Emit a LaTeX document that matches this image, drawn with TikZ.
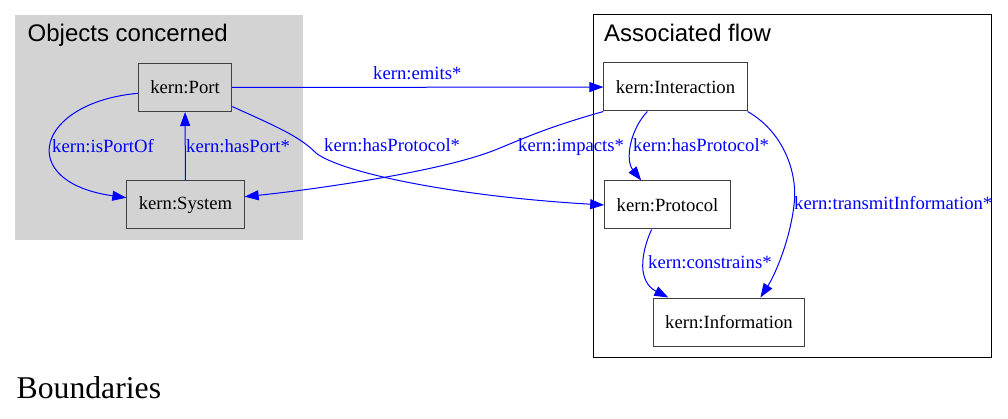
\documentclass[tikz,border=0pt]{standalone}
\usepackage{fontspec}
\setmainfont{Liberation Serif}
\setsansfont{Liberation Sans}
\usetikzlibrary{arrows.meta}
\definecolor{clgray}{HTML}{D3D3D3}
\definecolor{relblue}{HTML}{0000FF}
\begin{document}
\begin{tikzpicture}[x=1pt, y=-1pt,
  kbox/.style={draw=black!75, line width=1pt, minimum height=48pt,
               inner xsep=12pt, font=\fontsize{18.67}{22}\selectfont},
  rel/.style={-{Triangle[length=14pt,width=10pt]}, relblue, line width=1pt},
  rlab/.style={anchor=base west, text=relblue, inner sep=0pt,
               font=\fontsize{18.67}{22}\selectfont},
  ctitle/.style={anchor=base west, inner sep=0pt,
                 font=\sffamily\fontsize{24}{28}\selectfont}]
  \useasboundingbox (0,0) rectangle (1008,419);
  % the two clusters
  \fill[clgray] (15,15) rectangle (303,240);
  \draw[line width=1pt] (593,15) rectangle (991,357);
  \node[ctitle] (tobj) at (27.5,41.5) {Objects concerned};
  \node[ctitle] (tflow) at (604,41.5) {Associated flow};
  % objects concerned
  \node[kbox, fill=clgray] (port) at (185,87.5) {kern:Port};
  \node[kbox, fill=clgray] (system) at (185.5,205) {kern:System};
  % associated flow
  \node[kbox, fill=white] (interaction) at (675.5,87) {kern:Interaction};
  \node[kbox, fill=white] (protocol) at (667.5,205) {kern:Protocol};
  \node[kbox, fill=white] (information) at (729,322) {kern:Information};
  % relations
  \draw[rel] (port.187) .. controls (35,103) and (15,182) .. (system.173);
  \draw[rel] (system) -- (port);
  \draw[rel] (port) -- (interaction);
  \draw[rel] (port.-22) .. controls (280,128) and (300,137) .. (316,153)
    .. controls (340,172) and (450,196) .. (protocol.west);
  \draw[rel] (interaction.south west) .. controls (545,128) and (525,138) .. (495,150)
    .. controls (440,172) and (310,190) .. (system.8);
  \draw[rel] (interaction.221) .. controls (630,130) and (625,160) .. (protocol.137);
  \draw[rel] (interaction.south east) .. controls (785,133) and (798,175) .. (794,205)
    .. controls (790,240) and (775,275) .. (information.38);
  \draw[rel] (protocol.237) .. controls (640,255) and (638,282) .. (information.158);
  % relation labels
  \node[rlab] (lportof) at (52,152.5) {kern:isPortOf};
  \node[rlab] (lhasport) at (186,152.5) {kern:hasPort*};
  \node[rlab] (lemits) at (373,80) {kern:emits*};
  \node[rlab] (lproto1) at (324,152) {kern:hasProtocol*};
  \node[rlab] (limpacts) at (518,152) {kern:impacts*};
  \node[rlab] (lproto2) at (633,152) {kern:hasProtocol*};
  \node[rlab] (ltransmit) at (794,210) {kern:transmitInformation*};
  \node[rlab] (lconstr) at (648,269) {kern:constrains*};
  % graph title
  \node[anchor=base west, inner sep=0pt, font=\fontsize{31.7}{36}\selectfont]
    (tbound) at (16.5,398) {Boundaries};
\end{tikzpicture}
\end{document}
